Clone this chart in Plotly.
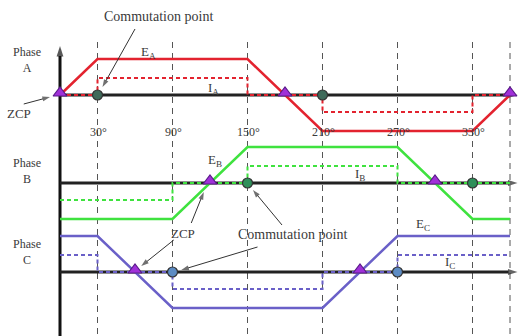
import plotly.graph_objects as go

# ---- data (electrical angle in degrees, normalised levels) ----
ea_ang = [0, 30, 150, 210, 330, 360]
ea_val = [0, 1, 1, -1, -1, 0]
eb_ang = [0, 90, 150, 270, 330, 360]
eb_val = [-1, -1, 1, 1, -1, -1]
ec_ang = [0, 30, 90, 210, 270, 360]
ec_val = [1, 1, -1, -1, 1, 1]

ia_ang = [0, 30, 30, 150, 150, 210, 210, 330, 330, 360]
ia_val = [0, 0, 1, 1, 0, 0, -1, -1, 0, 0]
ib_ang = [0, 90, 90, 150, 150, 270, 270, 360]
ib_val = [-1, -1, 0, 0, 1, 1, 0, 0]
ic_ang = [0, 30, 30, 90, 90, 210, 210, 270, 270, 360]
ic_val = [1, 1, 0, 0, -1, -1, 0, 0, 1, 1]

zcp_a = [0, 180, 360]
zcp_b = [120, 300]
zcp_c = [60, 240]
comm_a = [30, 210]
comm_b = [150, 330]
comm_c = [90, 270]

grid_angles = [30, 90, 150, 210, 270, 330, 360]
tick_angles = [30, 90, 150, 210, 270, 330]
tick_labels = ["30°", "90°", "150°", "210°", "270°", "330°"]

# ---- layout constants ----
BASE = {"A": 95, "B": 183, "C": 272}
E_AMP = 36
I_AMP = 17
RED = "#e3232f"
GREEN = "#3fe23f"
BLUE = "#6a60c8"
FONT = "Liberation Serif, Times New Roman, serif"
TXT = "#3a3a3a"

fig = go.Figure()

# dashed vertical grid
for g in grid_angles:
    fig.add_trace(go.Scatter(x=[g, g], y=[42, 336], mode="lines",
                             line=dict(color="#555555", width=1, dash="6px,5px"),
                             hoverinfo="skip", showlegend=False))


def arrow(x0, y0, x1, y1, color="#333333", width=1, size=8):
    fig.add_trace(go.Scatter(x=[x0, x1], y=[y0, y1], mode="lines+markers",
                             line=dict(color=color, width=width),
                             marker=dict(symbol="arrow", size=[0, size], color=color,
                                         angleref="previous", line=dict(width=0)),
                             hoverinfo="skip", showlegend=False))


# vertical axis with arrow
arrow(0, 336, 0, 46, color="#111111", width=3, size=11)
# baselines with arrows
for k in "ABC":
    arrow(0, BASE[k], 366, BASE[k], color="#222222", width=3, size=10)


def add_phase(key, e_ang, e_val, i_ang, i_val, color):
    b = BASE[key]
    fig.add_trace(go.Scatter(x=e_ang, y=[b - E_AMP * v for v in e_val], mode="lines",
                             line=dict(color=color, width=2.5), showlegend=False))
    fig.add_trace(go.Scatter(x=i_ang, y=[b - I_AMP * v for v in i_val], mode="lines",
                             line=dict(color=color, width=2, dash="4px,3px"),
                             showlegend=False))


add_phase("A", ea_ang, ea_val, ia_ang, ia_val, RED)
add_phase("B", eb_ang, eb_val, ib_ang, ib_val, GREEN)
add_phase("C", ec_ang, ec_val, ic_ang, ic_val, BLUE)

# markers
for key, pts, fillc in [("A", comm_a, "#3f6a5a"), ("B", comm_b, "#2f8f5a"), ("C", comm_c, "#5d8cc4")]:
    fig.add_trace(go.Scatter(x=pts, y=[BASE[key]] * len(pts), mode="markers",
                             marker=dict(symbol="circle", size=10, color=fillc,
                                         line=dict(color="#333333", width=1.2)),
                             showlegend=False))
for key, pts in [("A", zcp_a), ("B", zcp_b), ("C", zcp_c)]:
    fig.add_trace(go.Scatter(x=pts, y=[BASE[key] - 2] * len(pts), mode="markers",
                             marker=dict(symbol="triangle-up", size=12, color="#a030d8",
                                         line=dict(color="#5a1a8a", width=1.2)),
                             showlegend=False))

ann = []


def text(x, y, t, size=13, color=TXT):
    ann.append(dict(x=x, y=y, xref="x", yref="y", text=t, showarrow=False,
                    font=dict(family=FONT, size=size, color=color)))


# labels
for a, t in zip(tick_angles, tick_labels):
    text(a + 1, 132, t, size=12)
text(-26.4, 60, "Phase<br>A", size=12)
text(-26.4, 171, "Phase<br>B", size=12)
text(-26.4, 252, "Phase<br>C", size=12)
text(-33, 113, "ZCP", size=13)
arrow(-29, 104, -8, 97)
text(79, 16, "Commutation point", size=14)
arrow(60, 29, 34, 87)
text(70.4, 52, "E<sub>A</sub>", size=13)
text(122.4, 88, "I<sub>A</sub>", size=13)
text(124, 160, "E<sub>B</sub>", size=13)
text(240, 174, "I<sub>B</sub>", size=13)
text(290.4, 224, "E<sub>C</sub>", size=13)
text(312, 262, "I<sub>C</sub>", size=13)
text(98.4, 233, "ZCP", size=13)
arrow(105, 223, 115, 192)
arrow(91, 240, 65, 266)
text(186, 234, "Commutation point", size=14)
arrow(177.6, 225, 154.4, 190)
arrow(158, 247, 97, 270)

fig.update_layout(
    width=522, height=336, margin=dict(l=0, r=0, t=0, b=0),
    paper_bgcolor="white", plot_bgcolor="white",
    xaxis=dict(range=[-48, 369.6], visible=False, fixedrange=True),
    yaxis=dict(range=[336, 0], visible=False, fixedrange=True),
    annotations=ann, showlegend=False,
)
fig.write_html("out.html", config={"displayModeBar": False},
               post_script="document.body.style.margin='0px';document.body.style.overflow='hidden';")
